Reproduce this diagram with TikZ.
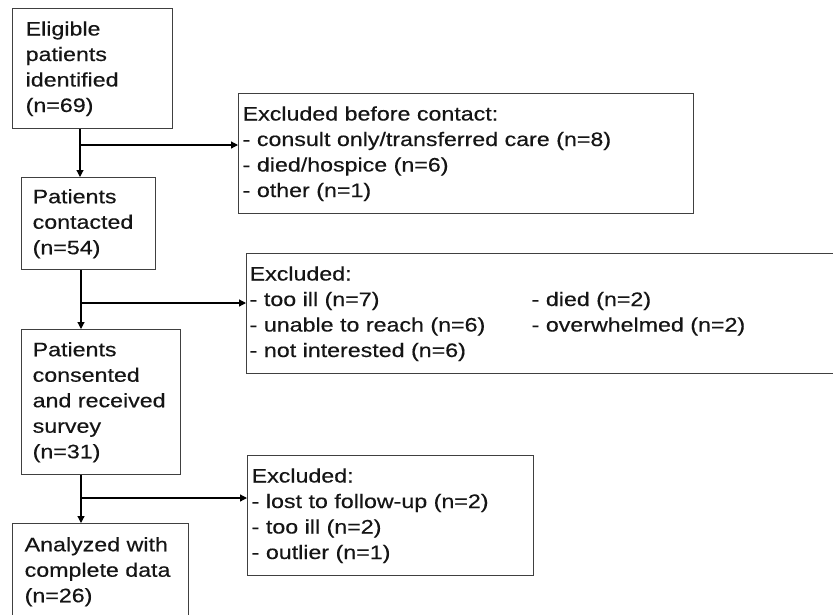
\documentclass[tikz,border=0pt]{standalone}
\usepackage{fontspec}
\setmainfont{Liberation Sans}[FakeStretch=1.19, FakeBold=0.4]
\usetikzlibrary{arrows.meta}
\definecolor{boxgray}{HTML}{404040}
\definecolor{txt}{HTML}{151515}
\begin{document}
\begin{tikzpicture}[x=1pt,y=-1pt,
  box/.style={draw=boxgray, line width=1.4pt, anchor=north west, align=left,
    inner ysep=0pt, text=txt, font=\fontsize{19.5}{25.5}\selectfont},
  arr/.style={draw=black, line width=1.2pt, -{Triangle[length=7pt,width=7pt]}},
  ln/.style={draw=black, line width=1.2pt}]
\useasboundingbox (0,0) rectangle (833,614);
\fill[white] (0,0) rectangle (833,614);
\begin{scope}
\clip (0,0) rectangle (833,614);
\node[box, text width=134pt, inner xsep=13pt, minimum height=120pt] (A) at (12,8)
  {Eligible\\patients\\identified\\(n=69)};
\node[box, text width=447pt, inner xsep=4pt, minimum height=120pt] (B) at (238,93)
  {Excluded before contact:\\- consult only/transferred care (n=8)\\- died/hospice (n=6)\\- other (n=1)};
\node[box, text width=112pt, inner xsep=11pt, minimum height=92pt] (C) at (21,177)
  {Patients\\contacted\\(n=54)};
\node[box, text width=583pt, inner xsep=3pt, minimum height=120pt] (D) at (246,253)
  {Excluded:\\\makebox[282pt][l]{- too ill (n=7)}- died (n=2)\\\makebox[282pt][l]{- unable to reach (n=6)}- overwhelmed (n=2)\\- not interested (n=6)};
\node[box, text width=137pt, inner xsep=11pt, minimum height=145pt] (E) at (21,329)
  {Patients\\consented\\and received\\survey\\(n=31)};
\node[box, text width=278pt, inner xsep=4pt, minimum height=120pt] (F) at (247,455)
  {Excluded:\\- lost to follow-up (n=2)\\- too ill (n=2)\\- outlier (n=1)};
\node[box, text width=152pt, inner xsep=12pt, minimum height=96pt] (G) at (12,523)
  {Analyzed with\\complete data\\(n=26)};
\end{scope}
\coordinate (s1) at (80,145);
\coordinate (s2) at (81,303);
\coordinate (s3) at (81,498);
\draw[arr] (A.south -| s1) -- (C.north -| s1);
\draw[arr] (s1) -- (s1 -| B.west);
\draw[arr] (C.south -| s2) -- (E.north -| s2);
\draw[arr] (s2) -- (s2 -| D.west);
\draw[arr] (E.south -| s3) -- (G.north -| s3);
\draw[arr] (s3) -- (s3 -| F.west);
\end{tikzpicture}
\end{document}
